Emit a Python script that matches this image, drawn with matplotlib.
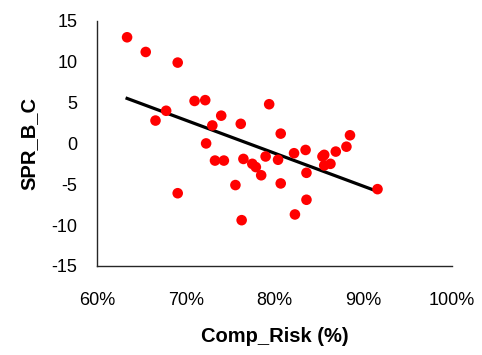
import numpy as np
import matplotlib.pyplot as plt
from matplotlib.ticker import FuncFormatter

plt.rcParams['font.family'] = ['Liberation Sans', 'DejaVu Sans']
plt.rcParams['axes.unicode_minus'] = False

# datos
comp_risk = [63.4, 65.5, 69.1, 71.0, 72.2, 67.8, 66.6, 74.0, 73.0, 76.2,
             79.4, 80.7, 72.3, 88.5, 88.1, 86.9, 83.5, 82.2, 85.4, 85.6,
             79.0, 80.4, 77.5, 77.9, 78.5, 86.3, 85.6, 83.6, 80.7, 83.6,
             82.3, 91.6, 73.3, 74.3, 76.5, 75.6, 69.1, 76.3]
spr_b_c = [13.0, 11.2, 9.9, 5.2, 5.3, 4.0, 2.8, 3.4, 2.2, 2.4,
           4.8, 1.2, 0.0, 1.0, -0.4, -1.0, -0.8, -1.2, -1.6, -1.4,
           -1.6, -2.0, -2.5, -2.9, -3.9, -2.5, -2.7, -3.6, -4.9, -6.9,
           -8.7, -5.6, -2.1, -2.1, -1.9, -5.1, -6.1, -9.4]

x = np.array(comp_risk)
y = np.array(spr_b_c)

fig = plt.figure(figsize=(4.82, 3.55), dpi=100)
ax = fig.add_axes([0.201, 0.251, 0.737, 0.690])

ax.scatter(x, y, s=58, color='#FF0000', edgecolors='none', zorder=3)

# linea de tendencia lineal
m, b = np.polyfit(x, y, 1)
xs = np.array([x.min(), x.max()])
ax.plot(xs, m * xs + b, color='black', linewidth=2.3, zorder=2)

ax.set_xlim(60, 100)
ax.set_ylim(-15, 15)
ax.set_xticks([60, 70, 80, 90, 100])
ax.set_yticks([-15, -10, -5, 0, 5, 10, 15])
ax.xaxis.set_major_formatter(FuncFormatter(lambda v, p: f'{v:.0f}%'))

for s in ['top', 'right']:
    ax.spines[s].set_visible(False)
for s in ['left', 'bottom']:
    ax.spines[s].set_color('#262626')
    ax.spines[s].set_linewidth(1.0)

ax.tick_params(axis='both', length=0, labelsize=13, colors='black')
ax.tick_params(axis='x', pad=19)
ax.tick_params(axis='y', pad=14)

ax.set_xlabel('Comp_Risk (%)', fontsize=14.5, fontweight='bold', labelpad=13)
ax.set_ylabel('SPR_B_C', fontsize=14.5, fontweight='bold', labelpad=9)

fig.savefig('out.png', dpi=100)
